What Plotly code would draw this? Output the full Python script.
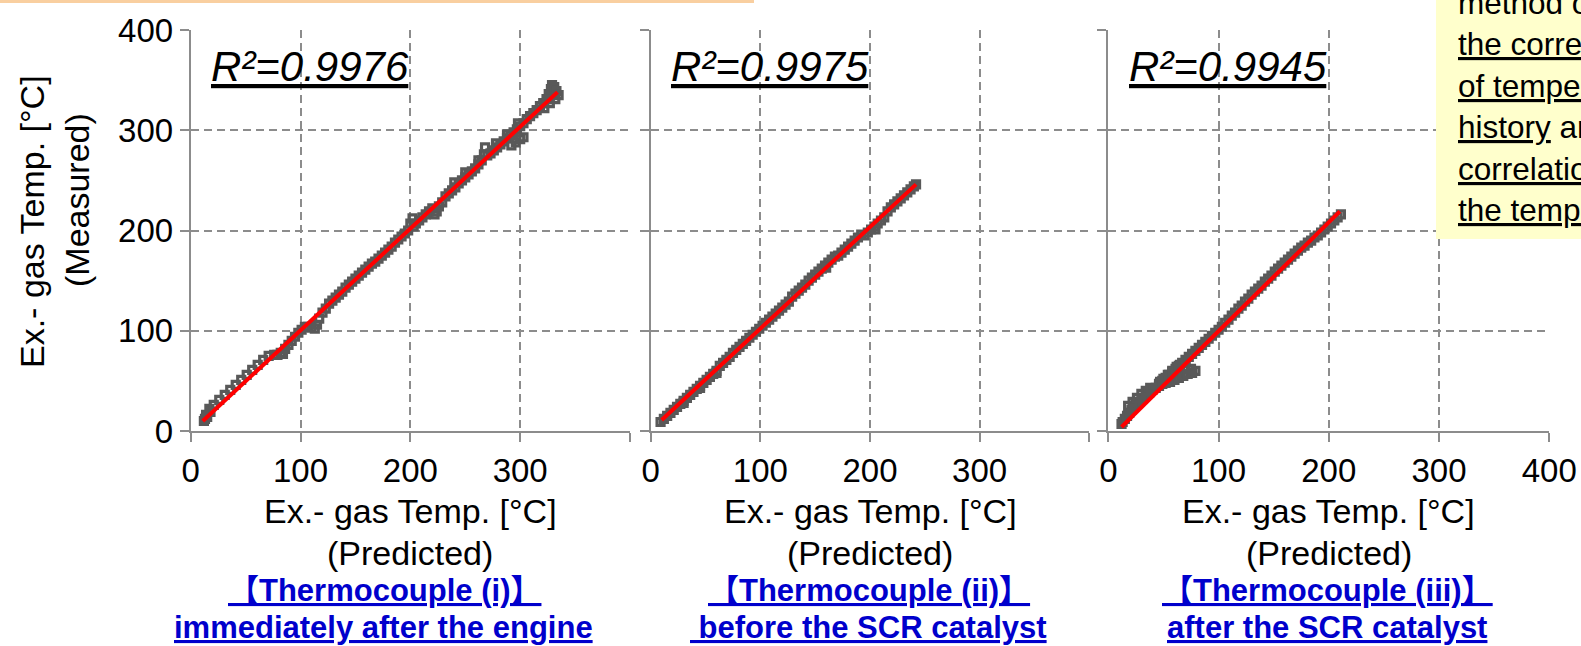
import plotly.graph_objects as go

W, H = 1581, 646

# ---------------- data ----------------
# Panel (i): immediately after the engine
p1_pred = [12, 13, 14, 15, 17, 18, 21, 26, 31, 36, 41, 46, 51, 56, 61, 66, 71,
           76, 79, 82, 84, 86, 89, 92, 95, 98, 101,
           104, 107, 110, 113, 115, 117, 120, 123,
           126, 129, 132, 135, 138, 141, 144, 147, 150, 153, 156, 159, 162, 165, 168,
           171, 174, 177, 180, 183, 186, 189, 192, 195, 198,
           200, 202, 203,
           205, 208, 211, 214, 217, 220, 222, 224, 226, 229,
           232, 235, 238, 241, 244, 247, 250, 253, 256, 259, 262, 265, 267, 268, 270,
           273, 276, 279, 282, 285, 288, 291, 294, 297, 300,
           240, 250, 262, 278, 288, 298,
           292, 296, 300, 303,
           303, 306, 309, 312, 315, 318, 321, 324, 326, 328, 329, 331, 333, 335, 332, 327, 322]
p1_meas = [10, 12, 16, 14, 22, 19, 26, 31, 36, 41, 46, 51, 56, 61, 66, 71, 75,
           76, 76, 78, 77, 82, 86, 90, 94, 98, 101,
           104, 104, 103, 102, 106, 112, 118, 122,
           127, 130, 133, 136, 139, 143, 146, 149, 152, 155, 158, 161, 164, 167, 169,
           172, 175, 178, 181, 184, 188, 191, 194, 197, 200,
           207, 212, 204,
           207, 210, 213, 216, 219, 222, 216, 219, 224, 228,
           234, 237, 240, 243, 247, 250, 253, 256, 259, 262, 266, 270, 276, 283, 275,
           277, 280, 283, 286, 289, 292, 295, 298, 301, 304,
           248, 258, 270, 287, 296, 307,
           285, 288, 291, 293,
           307, 311, 314, 317, 320, 324, 327, 331, 336, 341, 345, 343, 339, 335, 331, 327, 322]

# Panel (ii): before the SCR catalyst
p2_pred = [9, 12, 15, 18, 21, 24, 27, 30, 33, 36, 39, 42, 45, 48, 51, 54, 57, 60,
           63, 66, 69, 72, 75, 78, 81, 84, 87, 90, 93, 96, 99, 102, 105, 108, 111, 114, 117, 120, 123, 126,
           129, 132, 135, 138, 141, 144, 147, 150, 153, 156, 159, 162, 165, 168,
           171, 174, 177, 180, 183, 186, 189, 192,
           195, 198, 201, 204, 207, 210, 213,
           216, 219, 222, 225, 228, 231, 234, 237, 240, 242,
           30, 45, 60, 160, 205]
p2_meas = [9, 12, 15, 18, 21, 24, 27, 30, 33, 36, 39, 42, 45, 48, 51, 54, 57, 60,
           65, 68, 71, 74, 78, 81, 84, 87, 90, 93, 96, 99, 102, 105, 108, 111, 114, 117, 120, 123, 126, 129,
           134, 137, 140, 143, 146, 150, 153, 156, 159, 162, 165, 168, 171, 174,
           175, 178, 181, 184, 187, 190, 193, 196,
           195, 198, 201, 204, 207, 210, 213,
           219, 223, 226, 229, 232, 235, 238, 241, 244, 246,
           28, 43, 58, 163, 201]

# Panel (iii): after the SCR catalyst
p3_pred = [12, 13, 15, 17, 19, 21, 23, 25, 28, 31, 34, 37, 40, 43, 46, 49, 52, 56, 60, 64,
           68, 72, 76, 79, 75, 70, 65, 62, 58, 54, 50, 47,
           18, 22, 26, 30, 34, 38,
           46, 49, 52, 55, 58, 61, 64, 67, 70, 73, 76, 79, 82, 85, 88, 91, 94, 97, 100,
           103, 106, 109, 112, 115, 118, 121, 124, 127, 130,
           133, 136, 139, 142, 145, 148, 151, 154, 157, 160,
           163, 166, 169, 172, 175, 178, 181, 184, 187, 190, 193, 196, 199, 202, 205, 208, 211]
p3_meas = [7, 9, 12, 15, 18, 21, 24, 26, 29, 32, 35, 38, 41, 43, 45, 47, 48, 49, 51, 53,
           55, 57, 58, 60, 62, 64, 66, 64, 60, 56, 52, 49,
           25, 29, 33, 37, 40, 43,
           47, 50, 53, 56, 59, 62, 65, 68, 71, 74, 77, 80, 83, 86, 89, 92, 95, 98, 101,
           104, 108, 111, 115, 118, 122, 125, 129, 132, 136,
           139, 142, 145, 149, 152, 155, 159, 162, 165, 168,
           171, 174, 177, 180, 183, 185, 188, 190, 193, 195, 198, 201, 204, 207, 210, 213, 216]

# regression lines (end points)
fit1_pred, fit1_meas = [11, 334], [10, 338]
fit2_pred, fit2_meas = [10, 242], [11, 246]
fit3_pred, fit3_meas = [12, 210], [4, 219]

r2_values = ["0.9976", "0.9975", "0.9945"]
tick_vals = [0, 100, 200, 300, 400]
tick_text_short = ["0", "100", "200", "300", ""]
tick_text_full = ["0", "100", "200", "300", "400"]
caption_line1 = ["【Thermocouple (i)】", "【Thermocouple (ii)】", "【Thermocouple (iii)】"]
caption_line2 = ["immediately after the engine", " before the SCR catalyst", "after the SCR catalyst"]
note_lines = ["method of", "<u>the correction</u>", "<u>of temperature</u>",
              "<u>history</u> and", "<u>correlation of</u>", "<u>the temperature</u>"]

# ---------------- styling ----------------
FONT = "Liberation Sans, Arial, Noto Sans CJK JP, sans-serif"
GRAY = "#595959"
AX = "#8c8c8c"

def fx(p):
    return p / W

def fy(p):
    return 1 - p / H

fig = go.Figure()
panels = [(p1_pred, p1_meas, fit1_pred, fit1_meas),
          (p2_pred, p2_meas, fit2_pred, fit2_meas),
          (p3_pred, p3_meas, fit3_pred, fit3_meas)]
for i, (xp, ym, fxp, fym) in enumerate(panels):
    xa = "x" if i == 0 else f"x{i+1}"
    ya = "y" if i == 0 else f"y{i+1}"
    fig.add_trace(go.Scatter(x=xp, y=ym, mode="markers", xaxis=xa, yaxis=ya,
                             marker=dict(symbol="square-open", size=7, color=GRAY,
                                         line=dict(width=3.2, color=GRAY)),
                             showlegend=False, hoverinfo="skip"))
    fig.add_trace(go.Scatter(x=fxp, y=fym, mode="lines", xaxis=xa, yaxis=ya,
                             line=dict(color="#ff0000", width=4),
                             showlegend=False, hoverinfo="skip"))

x_domains = [[190.7 / W, 630 / W], [650.7 / W, 1089.3 / W], [1108.3 / W, 1549.3 / W]]
y_domain = [fy(431), fy(30)]

common = dict(range=[0, 400], showline=True, linecolor=AX, linewidth=2,
              ticks="outside", ticklen=9, tickwidth=2, tickcolor=AX,
              showgrid=True, gridcolor=AX, gridwidth=1.5, griddash="8px,5px",
              zeroline=False, tickvals=tick_vals,
              tickfont=dict(family=FONT, size=33, color="black"))

layout = dict(width=W, height=H, margin=dict(l=0, r=0, t=0, b=0, autoexpand=False),
              paper_bgcolor="white", plot_bgcolor="white", autosize=False)
for i in range(3):
    xk = "xaxis" if i == 0 else f"xaxis{i+1}"
    yk = "yaxis" if i == 0 else f"yaxis{i+1}"
    ya = "y" if i == 0 else f"y{i+1}"
    xa = "x" if i == 0 else f"x{i+1}"
    layout[xk] = dict(common, domain=x_domains[i], anchor=ya,
                      ticktext=tick_text_full if i == 2 else tick_text_short)
    layout[yk] = dict(common, domain=y_domain, anchor=xa,
                      ticktext=tick_text_full, showticklabels=(i == 0))
fig.update_layout(**layout)

ann = []
# R^2 labels
for i, r2 in enumerate(r2_values):
    xa = "x" if i == 0 else f"x{i+1}"
    ann.append(dict(xref=xa, yref="paper", x=17, y=fy(67), xanchor="left", yanchor="middle",
                    text=f"<i><u>R²={r2}</u></i>", showarrow=False,
                    font=dict(family=FONT, size=42, color="black")))
# x axis titles
for i in range(3):
    xa = "x" if i == 0 else f"x{i+1}"
    ann.append(dict(xref=xa, yref="paper", x=200, y=fy(511), xanchor="center", yanchor="middle",
                    text="Ex.- gas Temp. [°C]", showarrow=False,
                    font=dict(family=FONT, size=34, color="black")))
    ann.append(dict(xref=xa, yref="paper", x=200, y=fy(553), xanchor="center", yanchor="middle",
                    text="(Predicted)", showarrow=False,
                    font=dict(family=FONT, size=34, color="black")))
# y axis title
ann.append(dict(xref="paper", yref="paper", x=fx(32), y=fy(222), xanchor="center", yanchor="middle",
                text="Ex.- gas Temp. [°C]", textangle=-90, showarrow=False,
                font=dict(family=FONT, size=34, color="black")))
ann.append(dict(xref="paper", yref="paper", x=fx(77), y=fy(200), xanchor="center", yanchor="middle",
                text="(Measured)", textangle=-90, showarrow=False,
                font=dict(family=FONT, size=34, color="black")))
# captions
cap_x1 = [384.5, 869, 1327.5]
cap_x2 = [383, 868.7, 1327]
for i in range(3):
    ann.append(dict(xref="paper", yref="paper", x=fx(cap_x1[i]), y=fy(590), xanchor="center",
                    yanchor="middle", text=f"<b><u>{caption_line1[i]}</u></b>", showarrow=False,
                    font=dict(family=FONT, size=31, color="#0000cc")))
    ann.append(dict(xref="paper", yref="paper", x=fx(cap_x2[i]), y=fy(627), xanchor="center",
                    yanchor="middle", text=f"<b><u>{caption_line2[i]}</u></b>", showarrow=False,
                    font=dict(family=FONT, size=31, color="#0000cc")))
# note box text
note_y = [3, 44, 86, 127, 169, 210]
for t, yy in zip(note_lines, note_y):
    ann.append(dict(xref="paper", yref="paper", x=fx(1456), y=fy(yy), xanchor="left",
                    yanchor="middle", text=t, showarrow=False,
                    font=dict(family=FONT, size=31.5, color="black")))

shapes = [
    dict(type="rect", xref="paper", yref="paper", x0=fx(1436), x1=1.02, y0=fy(239), y1=1.02,
         fillcolor="#ffffcc", line=dict(width=0), layer="above"),
    dict(type="line", xref="paper", yref="paper", x0=0, x1=fx(754), y0=fy(1.5), y1=fy(1.5),
         line=dict(color="#f9cfa0", width=3)),
]
fig.update_layout(annotations=ann, shapes=shapes)

fig.write_html("out.html", config={"displayModeBar": False},
               post_script="document.body.style.margin='0';document.body.style.overflow='hidden';")
